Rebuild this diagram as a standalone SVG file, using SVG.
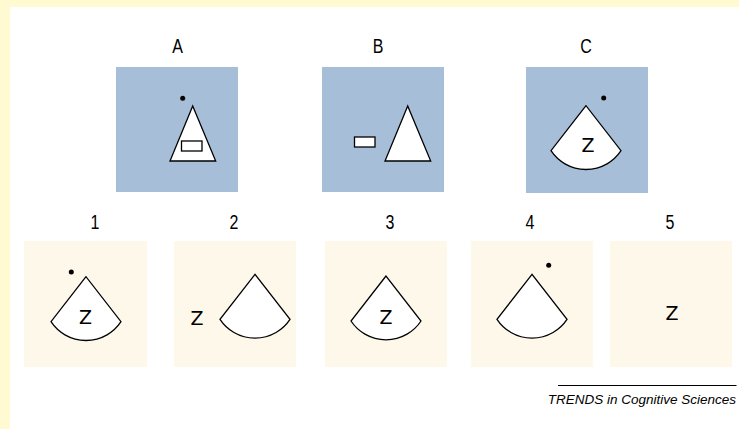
<svg xmlns="http://www.w3.org/2000/svg" xmlns:xlink="http://www.w3.org/1999/xlink" width="739" height="429" viewBox="0 0 739 429">
<style>
.blue{fill:#A7BED8}
.cream{fill:#FEF8EA}
.shape{fill:#fff;stroke:#000;stroke-width:1.3;stroke-linejoin:miter}
.lbl{font-family:"Liberation Sans",Arial,sans-serif;font-size:20px;fill:#000;text-anchor:middle}
.z{font-family:"DejaVu Sans",sans-serif;font-size:19px;fill:#000;text-anchor:middle}
.foot{font-family:"Liberation Sans",Arial,sans-serif;font-size:13.5px;font-style:italic;fill:#000;text-anchor:end}
</style>
<defs>
<path id="sector" class="shape" d="M0,0 L-35,45 A42,42 0 0 0 35,45 Z"/>
</defs>
<rect x="0" y="0" width="739" height="429" fill="#fff"/>
<rect x="0" y="0" width="739" height="7" fill="#FFFAD2"/>
<rect x="0" y="0" width="10" height="429" fill="#FFFAD2"/>

<g id="panelA">
<text class="lbl" transform="translate(177.5,53) scale(0.8,1)">A</text>
<rect class="blue" x="116" y="67" width="122" height="125"/>
<circle cx="182.7" cy="98.3" r="2.5" fill="#000"/>
<polygon class="shape" points="192.7,106 170,161 215.7,161"/>
<rect class="shape" x="181.5" y="141" width="20.5" height="10" fill="none"/>
</g>

<g id="panelB">
<text class="lbl" transform="translate(378,53) scale(0.8,1)">B</text>
<rect class="blue" x="322" y="67" width="122" height="125"/>
<rect class="shape" x="354.5" y="137" width="20.5" height="10"/>
<polygon class="shape" points="407.7,106 385,161 430.7,161"/>
</g>

<g id="panelC">
<text class="lbl" transform="translate(586,53) scale(0.8,1)">C</text>
<rect class="blue" x="526" y="67" width="122" height="126"/>
<circle cx="603.7" cy="98" r="2.5" fill="#000"/>
<use xlink:href="#sector" transform="translate(586,105.7)"/>
<text class="z" x="588" y="151.5">Z</text>
</g>

<g id="panel1">
<text class="lbl" transform="translate(95,229) scale(0.8,1)">1</text>
<rect class="cream" x="24" y="241" width="123" height="126"/>
<circle cx="71.3" cy="272" r="2.5" fill="#000"/>
<use xlink:href="#sector" transform="translate(86,276.7)"/>
<text class="z" x="85.5" y="324">Z</text>
</g>

<g id="panel2">
<text class="lbl" transform="translate(234,229) scale(0.8,1)">2</text>
<rect class="cream" x="174" y="241" width="122" height="126"/>
<use xlink:href="#sector" transform="translate(255,274.3)"/>
<text class="z" x="197" y="325">Z</text>
</g>

<g id="panel3">
<text class="lbl" transform="translate(390,229) scale(0.8,1)">3</text>
<rect class="cream" x="325" y="241" width="122" height="126"/>
<use xlink:href="#sector" transform="translate(386,276)"/>
<text class="z" x="386" y="324">Z</text>
</g>

<g id="panel4">
<text class="lbl" transform="translate(530,229) scale(0.8,1)">4</text>
<rect class="cream" x="471" y="241" width="122" height="126"/>
<circle cx="548.7" cy="265.3" r="2.5" fill="#000"/>
<use xlink:href="#sector" transform="translate(532,274.3)"/>
</g>

<g id="panel5">
<text class="lbl" transform="translate(670,229) scale(0.8,1)">5</text>
<rect class="cream" x="610" y="241" width="122" height="126"/>
<text class="z" x="672" y="320">Z</text>
</g>

<g id="connectors"></g>

<g id="footer">
<line x1="558" y1="385.5" x2="736.5" y2="385.5" stroke="#000" stroke-width="1"/>
<text class="foot" x="736" y="403.5">TRENDS in Cognitive Sciences</text>
</g>
</svg>
